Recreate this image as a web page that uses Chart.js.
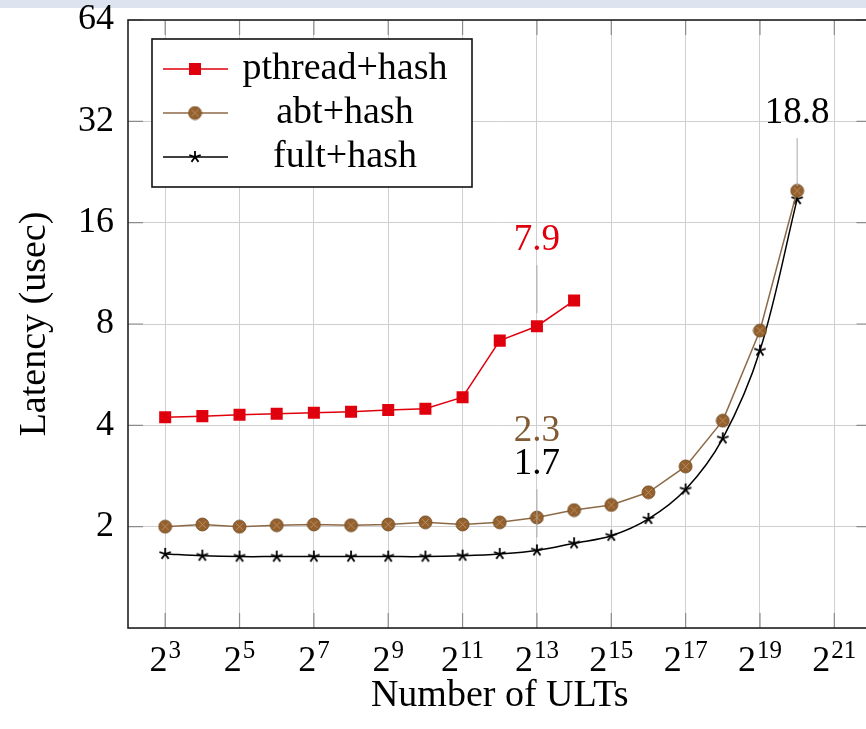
<!DOCTYPE html>
<html>
<head>
<meta charset="utf-8">
<title>Latency vs number of ULTs</title>
<script src="https://cdn.jsdelivr.net/npm/chart.js@4/dist/chart.umd.min.js"></script>
<style>
    html, body { margin: 0; padding: 0; background: #fff; overflow: hidden; }
    #band { position: absolute; left: 0; top: 0; width: 866px; height: 8px; background: #dde4ef; }
    #chart { position: absolute; left: 0; top: 0; display: block; }
</style>
</head>
<body>
<div id="band"></div>
<canvas id="chart" width="880" height="729"></canvas>
<script>
// exponents of 2 on the x axis
const ultExp = [3, 4, 5, 6, 7, 8, 9, 10, 11, 12, 13, 14, 15, 16, 17, 18, 19, 20];
const pthreadHash = [4.23, 4.26, 4.30, 4.33, 4.36, 4.39, 4.44, 4.48, 4.85, 7.14, 7.88, 9.39];
const abtHash = [2.00, 2.03, 2.00, 2.02, 2.03, 2.02, 2.03, 2.06, 2.03, 2.06, 2.13, 2.24, 2.32, 2.53, 3.02, 4.13, 7.65, 19.9];
const fultHash = [1.66, 1.64, 1.63, 1.63, 1.63, 1.63, 1.63, 1.63, 1.64, 1.66, 1.70, 1.785, 1.88, 2.11, 2.58, 3.66, 6.67, 18.8];
const seriesNames = ['pthread+hash', 'abt+hash', 'fult+hash'];

const xTickExp = [3, 5, 7, 9, 11, 13, 15, 17, 19, 21];
const yTicks = [1, 2, 4, 8, 16, 32, 64];

// value labels pinned to points: series, point index, text, stack row
const noteSeries = [0, 2, 2, 2];
const noteIndex = [10, 10, 10, 17];
const noteText = ['7.9', '1.7', '2.3', '18.8'];
const noteRow = [0, 0, 1, 0];
const noteColors = ['#e0000d', '#000000', '#7f5a33', '#000000'];

const FONT = "'Liberation Serif', 'Times New Roman', serif";
const RED = '#e0000d';
const BROWN_LINE = '#8d6a47';
const BROWN_FILL = '#93602e';

function toPoints(values) {
    return values.map((v, i) => ({ x: Math.pow(2, ultExp[i]), y: v }));
}

function makeCircleX() {
    const c = document.createElement('canvas');
    c.width = 15; c.height = 15;
    const g = c.getContext('2d');
    g.beginPath();
    g.arc(7.5, 7.5, 6.5, 0, Math.PI * 2);
    g.fillStyle = BROWN_FILL;
    g.fill();
    g.strokeStyle = '#6e4a22';
    g.lineWidth = 0.8;
    g.stroke();
    g.beginPath();
    g.moveTo(4, 4); g.lineTo(11, 11);
    g.moveTo(11, 4); g.lineTo(4, 11);
    g.strokeStyle = '#c89a68';
    g.lineWidth = 0.8;
    g.stroke();
    return c;
}

function makeStar() {
    const c = document.createElement('canvas');
    c.width = 14; c.height = 14;
    const g = c.getContext('2d');
    g.strokeStyle = '#000';
    g.lineWidth = 1.8;
    g.beginPath();
    for (let k = 0; k < 5; k++) {
        const a = -Math.PI / 2 + k * 2 * Math.PI / 5;
        g.moveTo(7, 7);
        g.lineTo(7 + 6 * Math.cos(a), 7 + 6 * Math.sin(a));
    }
    g.stroke();
    return c;
}

const circleX = makeCircleX();
const star = makeStar();

// frame and inward tick marks like pgfplots
const framePlugin = {
    id: 'frame',
    afterDatasetsDraw(chart) {
        const { ctx, chartArea: a, scales } = chart;
        ctx.save();
        ctx.strokeStyle = '#8c8c8c';
        ctx.lineWidth = 1.2;
        ctx.beginPath();
        xTickExp.forEach(e => {
            const x = scales.x.getPixelForValue(Math.pow(2, e));
            ctx.moveTo(x, a.bottom); ctx.lineTo(x, a.bottom - 15);
            ctx.moveTo(x, a.top); ctx.lineTo(x, a.top + 15);
        });
        yTicks.slice(1).forEach(v => {
            const y = scales.y.getPixelForValue(v);
            ctx.moveTo(a.left, y); ctx.lineTo(a.left + 15, y);
            ctx.moveTo(a.right, y); ctx.lineTo(a.right - 15, y);
        });
        ctx.stroke();
        ctx.strokeStyle = '#222';
        ctx.lineWidth = 1.6;
        ctx.strokeRect(a.left, a.top, a.right - a.left, a.bottom - a.top);

        // x tick labels with superscript exponents
        ctx.fillStyle = '#000';
        ctx.textBaseline = 'alphabetic';
        ctx.textAlign = 'left';
        xTickExp.forEach(e => {
            const x = scales.x.getPixelForValue(Math.pow(2, e));
            ctx.font = `36px ${FONT}`;
            const wb = ctx.measureText('2').width;
            ctx.font = `25px ${FONT}`;
            const we = ctx.measureText(String(e)).width;
            const x0 = x - (wb + we + 1) / 2;
            ctx.font = `36px ${FONT}`;
            ctx.fillText('2', x0, a.bottom + 43);
            ctx.font = `25px ${FONT}`;
            ctx.fillText(String(e), x0 + wb + 1, a.bottom + 30);
        });
        ctx.restore();
    }
};

const notesPlugin = {
    id: 'notes',
    afterDatasetsDraw(chart) {
        const { ctx } = chart;
        ctx.save();
        ctx.textAlign = 'center';
        ctx.textBaseline = 'middle';
        ctx.font = `37px ${FONT}`;
        noteText.forEach((t, i) => {
            const p = chart.getDatasetMeta(noteSeries[i]).data[noteIndex[i]];
            if (noteRow[i] === 0) {
                ctx.strokeStyle = '#a8a8a8';
                ctx.lineWidth = 1;
                ctx.beginPath();
                ctx.moveTo(p.x, p.y - 13);
                ctx.lineTo(p.x, p.y - 61);
                ctx.stroke();
            }
            ctx.fillStyle = noteColors[i];
            ctx.fillText(t, p.x, p.y - 86 - noteRow[i] * 33);
        });
        ctx.restore();
    }
};

const legendPlugin = {
    id: 'boxLegend',
    afterDraw(chart) {
        const { ctx, chartArea: a } = chart;
        const left = a.left + 24, top = a.top + 19, w = 320, h = 148;
        ctx.save();
        ctx.fillStyle = '#fff';
        ctx.fillRect(left, top, w, h);
        ctx.strokeStyle = '#111';
        ctx.lineWidth = 1.6;
        ctx.strokeRect(left, top, w, h);
        chart.data.datasets.forEach((ds, i) => {
            const y = top + 30 + i * 44;
            ctx.strokeStyle = ds.borderColor;
            ctx.lineWidth = 1.5;
            ctx.beginPath();
            ctx.moveTo(left + 11, y);
            ctx.lineTo(left + 76, y);
            ctx.stroke();
            const mx = left + 43;
            if (ds.pointStyle === 'rect') {
                ctx.fillStyle = ds.pointBackgroundColor;
                ctx.fillRect(mx - 6, y - 6, 12, 12);
            } else {
                const img = ds.pointStyle;
                ctx.drawImage(img, mx - img.width / 2, y - img.height / 2);
            }
            ctx.fillStyle = '#000';
            ctx.font = `38px ${FONT}`;
            ctx.textAlign = 'center';
            ctx.textBaseline = 'middle';
            ctx.fillText(ds.label, left + 193, y);
        });
        ctx.restore();
    }
};

new Chart(document.getElementById('chart').getContext('2d'), {
    type: 'line',
    data: {
        datasets: [{
            label: seriesNames[0],
            data: toPoints(pthreadHash),
            borderColor: RED,
            backgroundColor: RED,
            borderWidth: 1.5,
            pointStyle: 'rect',
            pointRadius: 8.5,
            pointBackgroundColor: RED,
            pointBorderWidth: 0,
            tension: 0
        }, {
            label: seriesNames[1],
            data: toPoints(abtHash),
            borderColor: BROWN_LINE,
            backgroundColor: BROWN_FILL,
            borderWidth: 1.5,
            pointStyle: circleX,
            pointRadius: 7,
            tension: 0
        }, {
            label: seriesNames[2],
            data: toPoints(fultHash),
            borderColor: '#000',
            backgroundColor: '#000',
            borderWidth: 1.5,
            pointStyle: star,
            pointRadius: 6,
            tension: 0.35
        }]
    },
    options: {
        responsive: false,
        animation: false,
        devicePixelRatio: 1,
        layout: { padding: { top: 20, right: 6, left: 0, bottom: 0 } },
        plugins: { legend: { display: false }, tooltip: { enabled: false } },
        scales: {
            x: {
                type: 'logarithmic',
                min: Math.pow(2, 2),
                max: Math.pow(2, 22),
                afterBuildTicks: s => { s.ticks = xTickExp.map(e => ({ value: Math.pow(2, e) })); },
                afterFit: s => { s.height = 101; },
                grid: { color: '#cfcfcf', lineWidth: 1, drawTicks: false },
                border: { display: false },
                ticks: { display: false },
                title: {
                    display: true,
                    text: 'Number of ULTs',
                    color: '#000',
                    font: { family: FONT, size: 38 },
                    padding: { top: 0, bottom: 10 }
                }
            },
            y: {
                type: 'logarithmic',
                min: 1,
                max: 64,
                afterBuildTicks: s => { s.ticks = yTicks.map(v => ({ value: v })); },
                afterFit: s => { s.width = 128; },
                grid: { color: '#cfcfcf', lineWidth: 1, drawTicks: false },
                border: { display: false },
                ticks: {
                    color: '#000',
                    padding: 14,
                    font: { family: FONT, size: 36, lineHeight: 0.1 },
                    callback: v => (v === 1 ? '' : String(v))
                },
                title: {
                    display: true,
                    text: 'Latency (usec)',
                    color: '#000',
                    font: { family: FONT, size: 38 },
                    padding: { top: 12, bottom: 0 }
                }
            }
        }
    },
    plugins: [framePlugin, notesPlugin, legendPlugin]
});
</script>
</body>
</html>
